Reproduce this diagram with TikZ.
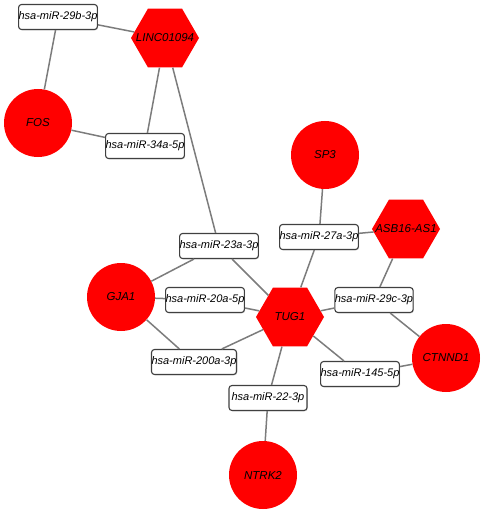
\documentclass[tikz,border=0pt]{standalone}
\usepackage{fontspec}
\setmainfont{Liberation Sans}
\usetikzlibrary{shapes.geometric,shadows}
\definecolor{hubred}{HTML}{FF0000}
\definecolor{edgegrey}{HTML}{7C7C7C}
\definecolor{boxline}{HTML}{404040}
\tikzset{
  gene/.style={circle,fill=hubred,minimum size=68pt,inner sep=0pt,font=\fontsize{11.5}{12}\selectfont\itshape},
  lnc/.style={regular polygon,regular polygon sides=6,fill=hubred,minimum size=68pt,inner sep=0pt,
    label={center:{\fontsize{11.5}{12}\selectfont\itshape #1}}},
  mir/.style={draw=boxline,fill=white,rounded corners=3pt,line width=1.1pt,minimum width=78pt,
    minimum height=25pt,inner xsep=0pt,font=\fontsize{11}{12}\selectfont\itshape,
    drop shadow={shadow xshift=0.8pt,shadow yshift=-0.8pt,opacity=0.35}},
  link/.style={edgegrey,line width=1.5pt},
}
\begin{document}
\begin{tikzpicture}[x=1pt,y=-1pt]
  \useasboundingbox (0,0) rectangle (484,513);
  \node[mir] (m29b) at (58,17) {hsa-miR-29b-3p};
  \node[lnc=LINC01094] (linc) at (165,38) {};
  \node[gene] (fos) at (38,123) {FOS};
  \node[mir] (m34a) at (145,146) {hsa-miR-34a-5p};
  \node[gene] (sp3) at (325,155) {SP3};
  \node[mir] (m27a) at (319,237) {hsa-miR-27a-3p};
  \node[lnc=ASB16-AS1] (asb) at (406,229) {};
  \node[mir] (m23a) at (219,246) {hsa-miR-23a-3p};
  \node[gene] (gja) at (121,297) {GJA1};
  \node[mir] (m20a) at (205,300) {hsa-miR-20a-5p};
  \node[lnc=TUG1] (tug) at (290,317) {};
  \node[mir] (m29c) at (374,300) {hsa-miR-29c-3p};
  \node[mir] (m200a) at (194,362) {hsa-miR-200a-3p};
  \node[gene] (ctn) at (446,358) {CTNND1};
  \node[mir] (m145) at (360,374) {hsa-miR-145-5p};
  \node[mir] (m22) at (268,398) {hsa-miR-22-3p};
  \node[gene] (ntrk) at (263,475) {NTRK2};
  \foreach \a/\b in {m29b/linc,m29b/fos,fos/m34a,m34a/linc,linc/m23a,sp3/m27a,m27a/asb,m27a/tug,
      asb/m29c,m29c/tug,m29c/ctn,m23a/gja,m23a/tug,gja/m20a,m20a/tug,gja/m200a,m200a/tug,
      tug/m145,m145/ctn,tug/m22,m22/ntrk}
    \draw[link] (\a) -- (\b);
\end{tikzpicture}
\end{document}
